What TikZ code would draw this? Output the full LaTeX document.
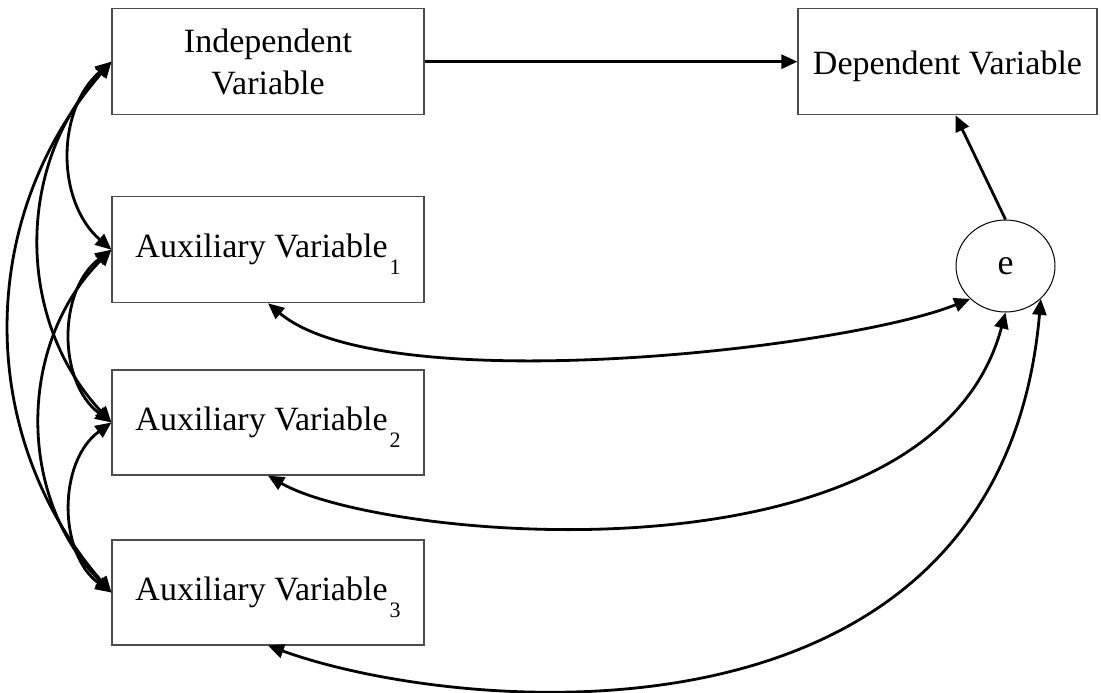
\documentclass[tikz,border=0pt]{standalone}
\usepackage{fontspec}
\setmainfont{Liberation Serif}
\usetikzlibrary{arrows.meta,shapes.geometric}
\newcommand\subidx[1]{\kern2pt\raisebox{-17pt}{\fontsize{22}{22}\selectfont #1}}
\begin{document}
\begin{tikzpicture}[x=1pt,y=1pt,
  box/.style={draw=black!70, line width=1.2pt, minimum width=312pt, minimum height=106pt,
    inner sep=0pt, font=\fontsize{34}{42}\selectfont},
  auxbox/.style={box, minimum height=105pt, text height=23pt, text depth=8pt},
  >={Triangle[length=16pt,width=14pt]},
  conn/.style={line width=2.8pt, draw=black},
]
\useasboundingbox (0,0) rectangle (1101,-693);
\node[box, align=center] (ind) at (268,-61.7) {Independent\\Variable};
\node[auxbox, minimum height=106pt] (a1) at (268,-249.7) {Auxiliary Variable\subidx{1}};
\node[auxbox] (a2) at (268,-422.5) {Auxiliary Variable\subidx{2}};
\node[auxbox] (a3) at (268,-592.5) {Auxiliary Variable\subidx{3}};
\node[box, minimum width=299pt, text height=26.6pt, text depth=0pt] (dep) at (947.5,-61.7) {Dependent Variable};
\node[ellipse, draw=black, line width=1pt, minimum width=99pt, minimum height=92pt, inner sep=0pt,
  font=\fontsize{36}{42}\selectfont] (e) at (1005.5,-266) {e};

\draw[conn,->] (ind.east) -- (dep.west);
\draw[conn,->] (e.north) -- ([xshift=8pt]dep.south);

\draw[conn,<->] (ind.west) to[bend right=49] (a1.west);
\draw[conn,<->] (ind.west) to[bend right=43] (a2.west);
\draw[conn,<->] (ind.west) to[bend right=41] (a3.west);
\draw[conn,<->] (a1.west) to[bend right=53] (a2.west);
\draw[conn,<->] (a1.west) to[bend right=45] (a3.west);
\draw[conn,<->] (a2.west) to[bend right=54] (a3.west);

\draw[conn,<->] (a1.south) .. controls +(-40:152) and +(-158:134) .. (e.south west);
\draw[conn,<->] (a2.south) .. controls +(-30:130) and +(-105:290) .. (e.south);
\draw[conn,<->] (a3.south) .. controls +(-20:200) and +(-95:470) .. (e.south east);
\end{tikzpicture}
\end{document}
